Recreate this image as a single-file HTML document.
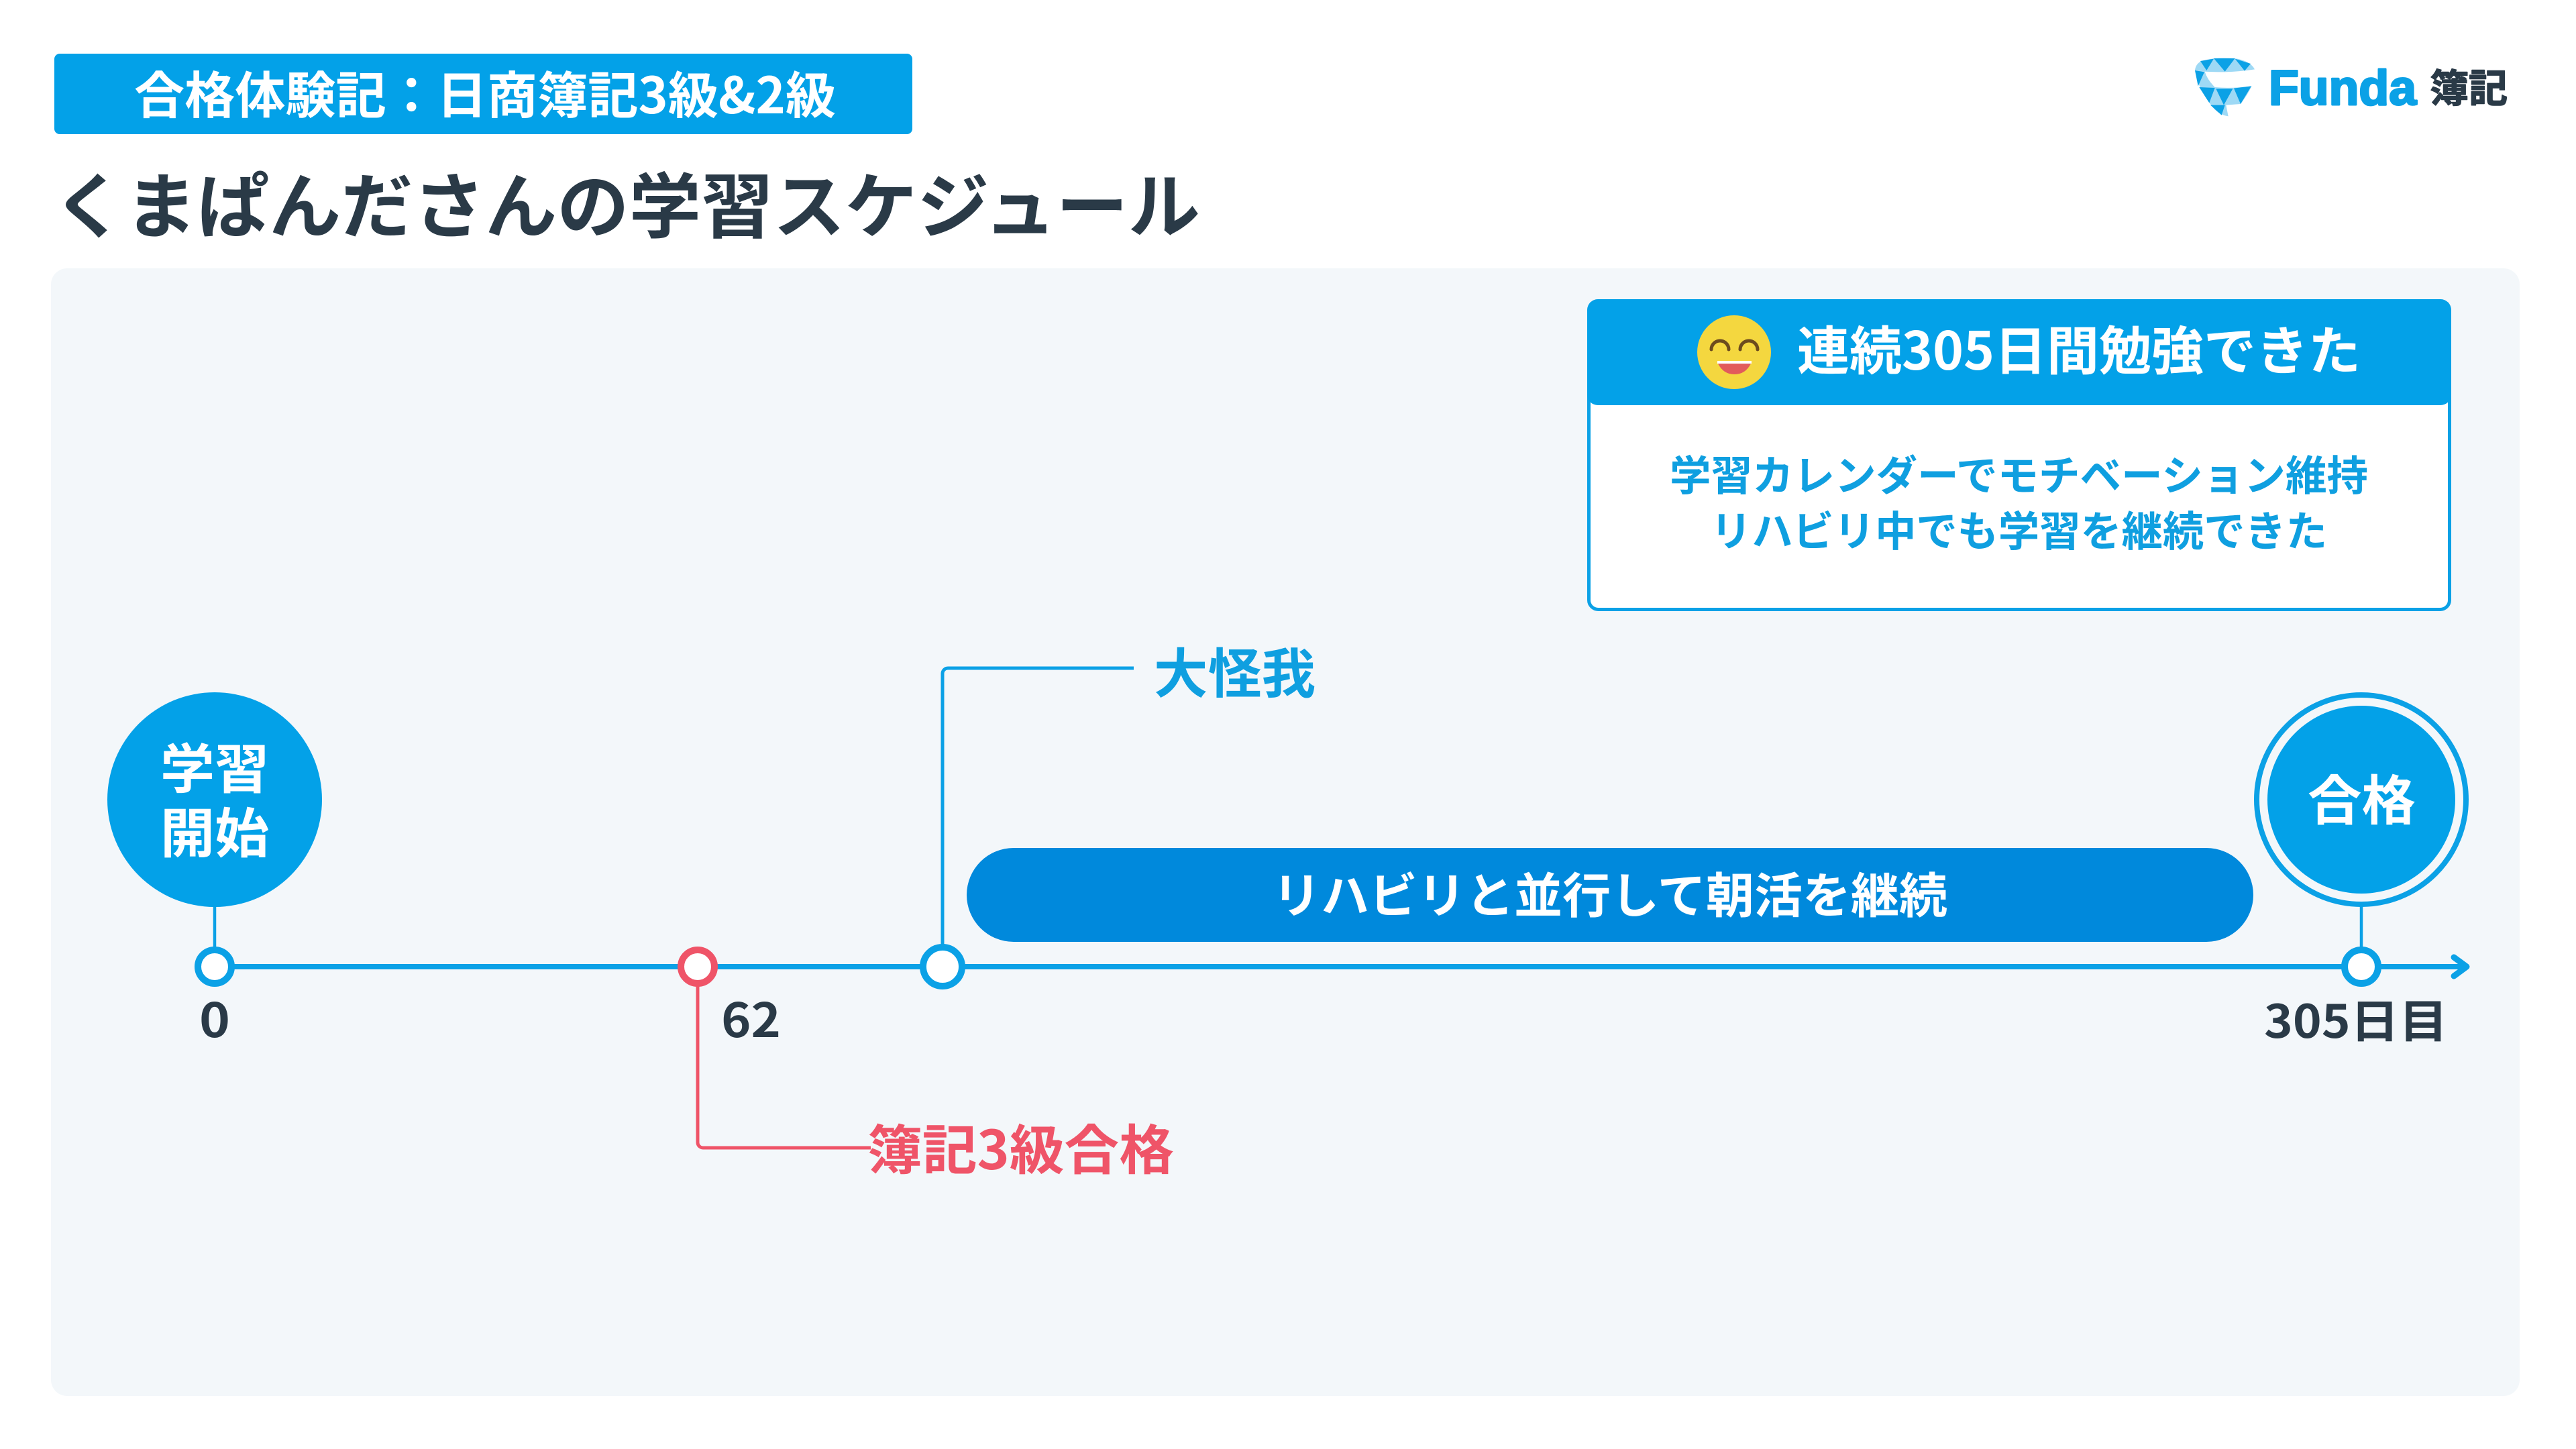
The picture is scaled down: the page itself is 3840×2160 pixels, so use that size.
<!DOCTYPE html>
<html lang="ja"><head><meta charset="utf-8"><title>くまぱんださんの学習スケジュール</title>
<style>
html,body{margin:0;padding:0;background:#fff;width:3840px;height:2160px;overflow:hidden}
svg{display:block}
text{font-family:"Noto Sans CJK JP","Liberation Sans",sans-serif;font-weight:700}
</style></head><body>
<svg xmlns="http://www.w3.org/2000/svg" width="3840" height="2160" viewBox="0 0 3840 2160">
<rect width="3840" height="2160" fill="#fff"/>
<rect x="81" y="80" width="1279" height="120" rx="8" fill="#03a1e8"/>
<text x="200" y="169" font-size="75" fill="#fff" textLength="1046" lengthAdjust="spacingAndGlyphs">合格体験記：日商簿記3級&amp;2級</text>
<text x="79" y="346" font-size="106" fill="#2a3a47" textLength="1710" lengthAdjust="spacingAndGlyphs">くまぱんださんの学習スケジュール</text>
<rect x="76" y="400" width="3680" height="1681" rx="24" fill="#f3f7fa"/>

<!-- logo -->
<g transform="translate(3260 75) scale(.33333)">
<path d="M36 88Q40 60 65 48Q130 28 225 38Q285 50 303 85Q240 95 170 97Q110 97 80 95Z" fill="#9ed9f5"/>
<path d="M36 88L80 95Q90 130 125 165Q200 172 290 160Q270 200 240 240L175 245Q180 270 185 295Q150 290 125 265Q50 180 36 88Z" fill="#9ed9f5"/>
<path d="M60 48L120 38L88 90ZM120 36L215 36L170 95ZM215 38L285 60L258 92ZM36 90L78 97L50 160ZM55 165L125 168L100 235ZM130 172L205 172L165 245ZM210 170L288 160L240 240ZM105 245L170 245L155 290Z" fill="#0ba1e6"/>
</g>
<text x="3382" y="156" font-size="73" fill="#0ba1e6" stroke="#0ba1e6" stroke-width="3" stroke-linejoin="round" style="font-family:'Liberation Sans',sans-serif" textLength="220" lengthAdjust="spacingAndGlyphs">Funda</text>
<text x="3622" y="152" font-size="58" fill="#2a3a47" stroke="#2a3a47" stroke-width="1.500" stroke-linejoin="round" textLength="116" lengthAdjust="spacingAndGlyphs">簿記</text>

<!-- card -->
<rect x="2368.500" y="557.500" width="1283" height="351" rx="14" fill="#fff" stroke="#0ba1e6" stroke-width="5"/>
<path d="M2366 462a16 16 0 0 1 16-16h1256a16 16 0 0 1 16 16v126a16 16 0 0 1-16 16h-1256a16 16 0 0 1-16-16z" fill="#03a1e8"/>
<circle cx="2585" cy="525" r="55" fill="#f4d73f"/>
<path d="M2551 521a13 13 0 0 1 26 0M2594 521a13 13 0 0 1 26 0" fill="none" stroke="#6b4a1e" stroke-width="5" stroke-linecap="round"/>
<path d="M2560 538H2611L2610 542Q2602 558 2585.500 558Q2569 558 2561 542Z" fill="#e25b5b"/>
<rect x="2560" y="538" width="51" height="4" fill="#fff"/>
<text x="2679" y="551" font-size="78" fill="#fff" textLength="840" lengthAdjust="spacingAndGlyphs">連続305日間勉強できた</text>
<text x="2489" y="731" font-size="62" fill="#0f9fe0" textLength="1041" lengthAdjust="spacingAndGlyphs">学習カレンダーでモチベーション維持</text>
<text x="2550" y="814" font-size="62" fill="#0f9fe0" textLength="919" lengthAdjust="spacingAndGlyphs">リハビリ中でも学習を継続できた</text>

<!-- axis -->
<path d="M320 1441H3676" stroke="#0ba1e6" stroke-width="8" fill="none"/>
<path d="M3658 1427L3677 1441L3658 1455" stroke="#0ba1e6" stroke-width="9" stroke-linecap="round" stroke-linejoin="round" fill="none"/>

<!-- leaders -->
<path d="M320 1340V1420M3520 1340V1420" stroke="#0ba1e6" stroke-width="4.500" fill="none"/>
<path d="M1405 1410V1004a8 8 0 0 1 8-8H1690" stroke="#0ba1e6" stroke-width="5" fill="none"/>
<path d="M1040 1465V1703a8 8 0 0 0 8 8H1298" stroke="#ef5468" stroke-width="5" fill="none"/>

<!-- start / pass -->
<circle cx="320" cy="1192" r="160" fill="#03a1e8"/>
<text x="239" y="1175" font-size="80" fill="#fff" textLength="162" lengthAdjust="spacingAndGlyphs">学習</text>
<text x="239" y="1271" font-size="80" fill="#fff" textLength="162" lengthAdjust="spacingAndGlyphs">開始</text>
<circle cx="3520" cy="1192" r="156" fill="#f3f7fa" stroke="#0ba1e6" stroke-width="8"/>
<circle cx="3520" cy="1192" r="140" fill="#03a1e8"/>
<text x="3440" y="1222" font-size="80" fill="#fff" textLength="161" lengthAdjust="spacingAndGlyphs">合格</text>

<!-- pill -->
<rect x="1441" y="1264" width="1918" height="140" rx="70" fill="#0089dc"/>
<text x="1897" y="1361" font-size="72" fill="#fff" textLength="1006" lengthAdjust="spacingAndGlyphs">リハビリと並行して朝活を継続</text>

<!-- nodes -->
<circle cx="320" cy="1441" r="25" fill="#fff" stroke="#0ba1e6" stroke-width="10"/>
<circle cx="1040" cy="1441" r="25" fill="#fff" stroke="#ef5468" stroke-width="10"/>
<circle cx="1405" cy="1441" r="29" fill="#fff" stroke="#0ba1e6" stroke-width="10"/>
<circle cx="3520" cy="1441" r="25" fill="#fff" stroke="#0ba1e6" stroke-width="10"/>

<!-- labels -->
<text x="1720" y="1033" font-size="80" fill="#0f9fe0" textLength="241" lengthAdjust="spacingAndGlyphs">大怪我</text>
<text x="1293" y="1743" font-size="80" fill="#ef5468" textLength="457" lengthAdjust="spacingAndGlyphs">簿記3級合格</text>
<text x="297" y="1546" font-size="70" fill="#2a3a47" textLength="46" lengthAdjust="spacingAndGlyphs">0</text>
<text x="1075" y="1546" font-size="70" fill="#2a3a47" textLength="89" lengthAdjust="spacingAndGlyphs">62</text>
<text x="3375" y="1547" font-size="68" fill="#2a3a47" textLength="274" lengthAdjust="spacingAndGlyphs">305日目</text>
</svg>
</body></html>
